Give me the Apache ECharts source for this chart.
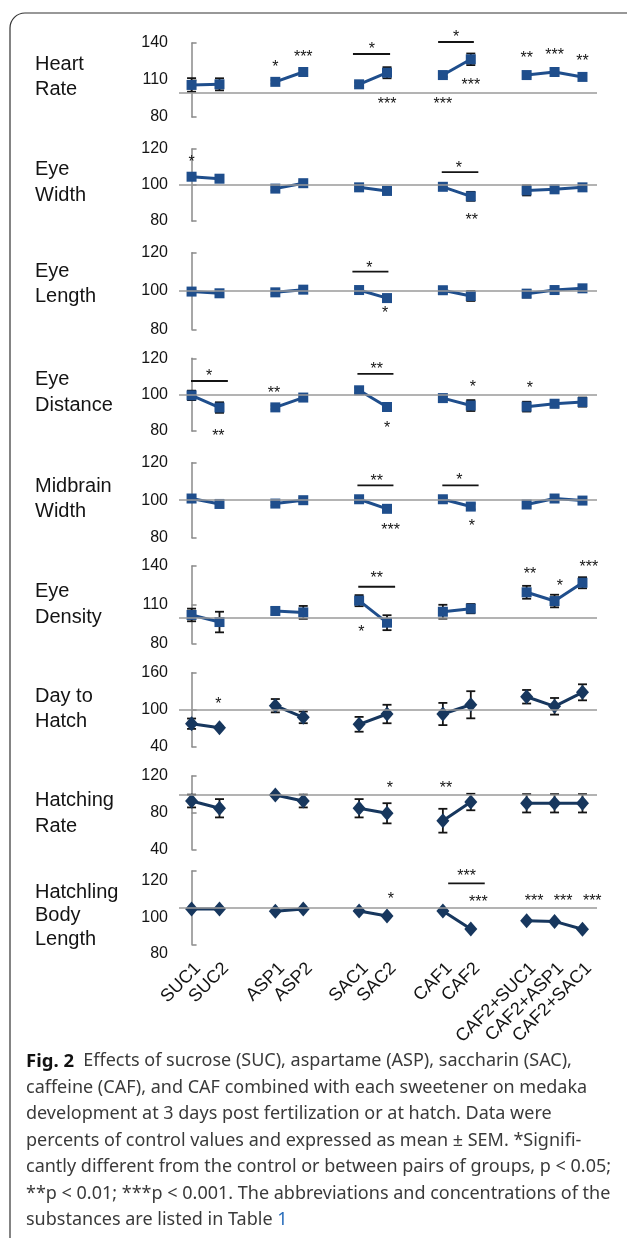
<!DOCTYPE html>
<html>
<head>
<meta charset="utf-8">
<script src="https://cdn.jsdelivr.net/npm/echarts@6/dist/echarts.min.js"></script>
<style>
  html, body { margin: 0; padding: 0; background: #fff; }
  #chart { width: 627px; height: 1238px; }
</style>
</head>
<body>
<div id="chart"></div>
<script>
// groups and where they sit on the x axis (gaps between substances)
const groups = ['SUC1', 'SUC2', 'ASP1', 'ASP2', 'SAC1', 'SAC2', 'CAF1', 'CAF2', 'CAF2+SUC1', 'CAF2+ASP1', 'CAF2+SAC1']
const positions = [0, 1, 3, 4, 6, 7, 9, 10, 12, 13, 14]
const control = 100

// percent of control, mean and SEM
const heartRate = [106, 106.5, 108.5, 116.5, 106.5, 115.9, 114, 126.8, 114, 116.5, 112.5]
const heartRateSem = [5.5, 4.9, 1.5, 2, 1.5, 4.5, 1.5, 4.7, 1.5, 1.5, 1.5]
const eyeWidth = [104.6, 103.5, 98, 101, 98.7, 96.7, 99, 93.7, 97, 97.6, 98.7]
const eyeWidthSem = [1, 1, 1, 1, 1, 1, 1, 2.5, 2.8, 1, 1]
const eyeLength = [99.7, 98.8, 99.3, 100.7, 100.5, 96.3, 100.4, 97.4, 98.6, 100.5, 101.4]
const eyeLengthSem = [1, 1, 1, 1, 1, 1.5, 1.5, 2.6, 2, 1, 1]
const eyeDistance = [99.6, 92.9, 93, 98.4, 102.4, 93.2, 98.1, 94, 93.4, 95, 95.9]
const eyeDistanceSem = [2.6, 2.9, 1, 1.5, 1.5, 1, 1, 3, 2.7, 2, 2.5]
const midbrainWidth = [100.9, 98, 98.2, 100, 100.5, 95.4, 100.5, 96.6, 97.7, 100.9, 99.8]
const midbrainWidthSem = [1, 1, 1, 1, 1, 1, 1, 1.5, 1, 1, 1]
const eyeDensity = [102, 96.5, 105.1, 104, 113.1, 96, 104.5, 106.9, 119.6, 112.8, 127]
const eyeDensitySem = [4.9, 8, 2.8, 5, 4.3, 5.8, 5.4, 3.6, 5, 4.9, 4.3]
const dayToHatch = [77.3, 70.8, 106.5, 87.6, 76.3, 93, 93, 108, 121, 105.5, 128.2]
const dayToHatchSem = [8.4, 2, 10.8, 9.5, 12, 15, 18, 22, 11, 13.5, 13]
const hatchingRate = [92.7, 84.8, 99.3, 92.7, 84.8, 79.3, 71.2, 91.6, 90.2, 90.2, 90.2]
const hatchingRateSem = [7, 10, 0.5, 7, 10, 11, 13, 9, 10, 10, 10]
const bodyLength = [99.3, 99.3, 98, 99.3, 98.2, 95.4, 98.2, 88.3, 92.9, 92.5, 88.2]
const bodyLengthSem = [0, 0, 0, 0, 0, 0, 0, 0, 0, 0, 0]

// y axis tick labels
const heartRateTicks = [80, 110, 140]
const eyeWidthTicks = [80, 100, 120]
const eyeLengthTicks = [80, 100, 120]
const eyeDistanceTicks = [80, 100, 120]
const midbrainWidthTicks = [80, 100, 120]
const eyeDensityTicks = [80, 110, 140]
const dayToHatchTicks = [40, 100, 160]
const hatchingRateTicks = [40, 80, 120]
const bodyLengthTicks = [80, 100, 120]

// significance marks [x, y, text] and pair brackets [x1, x2, y]
const heartRateStars = [[3, 123.8, '*'], [4, 131.9, '***'], [6.46, 138.4, '*'], [7, 93.8, '***'], [9.47, 148.1, '*'], [10, 109.2, '***'], [9, 93.8, '***'], [12, 131.1, '**'], [13, 133.5, '***'], [14, 128.7, '**']]
const heartRateBrackets = [[5.78, 7.11, 131.1], [8.83, 10.11, 140.8]]
const eyeWidthStars = [[0, 115, '*'], [9.57, 112.1, '*'], [10.03, 82.8, '**']]
const eyeWidthBrackets = [[8.96, 10.27, 107.1]]
const eyeLengthStars = [[6.37, 114.5, '*'], [6.93, 90.6, '*']]
const eyeLengthBrackets = [[5.76, 7.05, 110.1]]
const eyeDistanceStars = [[0.63, 112.6, '*'], [0.96, 79.6, '**'], [2.95, 103.5, '**'], [6.63, 116.3, '**'], [7, 84.2, '*'], [10.07, 106.6, '*'], [12.12, 105.9, '*']]
const eyeDistanceBrackets = [[-0.02, 1.3, 107.5], [5.94, 7.23, 111.4]]
const midbrainWidthStars = [[6.63, 112.7, '**'], [7.13, 86.4, '***'], [9.59, 113.1, '*'], [10.04, 88.5, '*']]
const midbrainWidthBrackets = [[5.94, 7.23, 107.9], [8.98, 10.28, 107.9]]
const eyeDensityStars = [[6.63, 133.8, '**'], [6.08, 92.4, '*'], [12.12, 137.5, '**'], [13.19, 127.8, '*'], [14.23, 142.6, '***']]
const eyeDensityBrackets = [[5.97, 7.29, 123.9]]
const dayToHatchStars = [[0.96, 115.7, '*']]
const dayToHatchBrackets = []
const hatchingRateStars = [[7.1, 112, '*'], [9.11, 112, '**']]
const hatchingRateBrackets = []
const bodyLengthStars = [[7.14, 106.9, '*'], [9.85, 119.6, '***'], [10.27, 105.4, '***'], [12.27, 106, '***'], [13.31, 106, '***'], [14.35, 106, '***']]
const bodyLengthBrackets = [[9.19, 10.5, 113.3]]

const panels = [
  { name: 'Heart\nRate', values: heartRate, sem: heartRateSem, ticks: heartRateTicks, stars: heartRateStars, brackets: heartRateBrackets },
  { name: 'Eye\nWidth', values: eyeWidth, sem: eyeWidthSem, ticks: eyeWidthTicks, stars: eyeWidthStars, brackets: eyeWidthBrackets },
  { name: 'Eye\nLength', values: eyeLength, sem: eyeLengthSem, ticks: eyeLengthTicks, stars: eyeLengthStars, brackets: eyeLengthBrackets },
  { name: 'Eye\nDistance', values: eyeDistance, sem: eyeDistanceSem, ticks: eyeDistanceTicks, stars: eyeDistanceStars, brackets: eyeDistanceBrackets },
  { name: 'Midbrain\nWidth', values: midbrainWidth, sem: midbrainWidthSem, ticks: midbrainWidthTicks, stars: midbrainWidthStars, brackets: midbrainWidthBrackets },
  { name: 'Eye\nDensity', values: eyeDensity, sem: eyeDensitySem, ticks: eyeDensityTicks, stars: eyeDensityStars, brackets: eyeDensityBrackets },
  { name: 'Day to\nHatch', values: dayToHatch, sem: dayToHatchSem, ticks: dayToHatchTicks, stars: dayToHatchStars, brackets: dayToHatchBrackets },
  { name: 'Hatching\nRate', values: hatchingRate, sem: hatchingRateSem, ticks: hatchingRateTicks, stars: hatchingRateStars, brackets: hatchingRateBrackets },
  { name: 'Hatchling\nBody\nLength', values: bodyLength, sem: bodyLengthSem, ticks: bodyLengthTicks, stars: bodyLengthStars, brackets: bodyLengthBrackets }
]

// pixel layout of each panel (plot top / bottom, label centre)
const layout = [
  { top: 43, bottom: 117, labelY: 78, lh: 25.5 },
  { top: 149, bottom: 221, labelY: 183.5, lh: 25.5 },
  { top: 252.7, bottom: 329.3, labelY: 285, lh: 25.5 },
  { top: 358.3, bottom: 431, labelY: 393.5, lh: 25.5 },
  { top: 462.7, bottom: 537.7, labelY: 500, lh: 25.5 },
  { top: 566, bottom: 643.3, labelY: 605.5, lh: 25.5 },
  { top: 672.7, bottom: 746.7, labelY: 710, lh: 25.5 },
  { top: 776, bottom: 849.3, labelY: 814.5, lh: 25.5 },
  { top: 871, bottom: 944.3, labelY: 916.5, lh: 23.5 }
]

const font = "'Liberation Sans', Arial, sans-serif"
const ink = '#141414'

var myChart = echarts.init(document.getElementById('chart'))

const grid = []
const xAxis = []
const yAxis = []
const series = []
const graphic = []

panels.forEach((p, k) => {
  const L = layout[k]
  const last = k === panels.length - 1
  const blue = k < 6 ? '#1f4e8c' : '#17375e'
  grid.push({ left: 179, right: 30, top: L.top, height: L.bottom - L.top })
  xAxis.push({
    gridIndex: k,
    type: 'value',
    min: -0.45,
    max: 14.52,
    axisLine: { show: false },
    axisTick: { show: false },
    splitLine: { show: false },
    axisLabel: last ? {
      show: true,
      customValues: positions,
      formatter: v => groups[positions.indexOf(v)],
      rotate: 45,
      margin: 15,
      verticalAlign: 'top',
      lineHeight: 18,
      fontSize: 18,
      fontFamily: font,
      color: ink
    } : { show: false }
  })
  yAxis.push({
    gridIndex: k,
    type: 'value',
    min: p.ticks[0],
    max: p.ticks[p.ticks.length - 1],
    axisLine: { show: true, lineStyle: { color: '#8a8a8a', width: 1.5 } },
    axisTick: { show: true, inside: true, length: 5, customValues: p.ticks, lineStyle: { color: '#8a8a8a', width: 1.5 } },
    axisLabel: {
      customValues: p.ticks,
      fontSize: 16,
      fontFamily: font,
      color: ink,
      margin: 11,
      verticalAlign: last ? 'top' : 'middle',
      lineHeight: last ? 19 : 16
    },
    splitLine: { show: false }
  })

  // error bars + control line
  series.push({
    type: 'custom',
    xAxisIndex: k,
    yAxisIndex: k,
    z: 1,
    silent: true,
    data: positions.map((x, i) => [x, p.values[i] - p.sem[i], p.values[i] + p.sem[i]]).filter((d, i) => p.sem[i] > 0),
    encode: { x: 0, y: [1, 2] },
    renderItem: function (params, api) {
      const lo = api.coord([api.value(0), api.value(1)])
      const hi = api.coord([api.value(0), api.value(2)])
      const w = 4.5
      const style = { stroke: ink, lineWidth: 1.8 }
      return {
        type: 'group',
        children: [
          { type: 'line', shape: { x1: lo[0], y1: lo[1], x2: hi[0], y2: hi[1] }, style },
          { type: 'line', shape: { x1: lo[0] - w, y1: lo[1], x2: lo[0] + w, y2: lo[1] }, style },
          { type: 'line', shape: { x1: hi[0] - w, y1: hi[1], x2: hi[0] + w, y2: hi[1] }, style }
        ]
      }
    },
    markLine: {
      silent: true,
      symbol: 'none',
      label: { show: false },
      lineStyle: { color: '#9a9a9a', width: 1.5, type: 'solid' },
      data: [{ yAxis: control }]
    }
  })

  // means, broken between substances
  const lineData = []
  positions.forEach((x, i) => {
    if (i > 0 && x - positions[i - 1] > 1) lineData.push([x - 1, '-'])
    lineData.push([x, p.values[i]])
  })
  series.push({
    type: 'line',
    xAxisIndex: k,
    yAxisIndex: k,
    z: 3,
    silent: true,
    connectNulls: false,
    data: lineData,
    symbol: k < 6 ? 'rect' : 'diamond',
    symbolSize: k < 6 ? 10 : [13, 15],
    itemStyle: { color: blue },
    lineStyle: { color: blue, width: 3 }
  })

  // significance stars and brackets
  series.push({
    type: 'custom',
    xAxisIndex: k,
    yAxisIndex: k,
    z: 4,
    silent: true,
    data: p.stars.map(s => [s[0], s[1]]),
    renderItem: function (params, api) {
      const pt = api.coord([api.value(0), api.value(1)])
      return {
        type: 'text',
        x: pt[0],
        y: pt[1] + 5,
        style: {
          text: p.stars[params.dataIndex][2],
          fill: ink,
          font: '16px ' + font,
          align: 'center',
          verticalAlign: 'middle'
        }
      }
    }
  })
  series.push({
    type: 'custom',
    xAxisIndex: k,
    yAxisIndex: k,
    z: 4,
    silent: true,
    data: p.brackets,
    renderItem: function (params, api) {
      const a = api.coord([api.value(0), api.value(2)])
      const b = api.coord([api.value(1), api.value(2)])
      return {
        type: 'line',
        shape: { x1: a[0], y1: a[1], x2: b[0], y2: b[1] },
        style: { stroke: ink, lineWidth: 1.8 }
      }
    }
  })

  const nLines = p.name.split('\n').length
  graphic.push({
    type: 'text',
    left: 35,
    top: L.labelY - nLines * L.lh / 2 - 1,
    style: {
      text: p.name,
      font: '20px ' + font,
      lineHeight: L.lh,
      fill: ink
    }
  })
})

// frame
graphic.push({
  type: 'rect',
  shape: { x: 10, y: 13, width: 700, height: 1300, r: [15, 0, 0, 0] },
  style: { fill: 'none', stroke: '#333', lineWidth: 1.2 },
  silent: true
})

// caption
graphic.push({
  type: 'text',
  left: 26,
  top: 1048,
  style: {
    text: [
      '{b|Fig. 2}  Effects of sucrose (SUC), aspartame (ASP), saccharin (SAC),',
      'caffeine (CAF), and CAF combined with each sweetener on medaka',
      'development at 3 days post fertilization or at hatch. Data were',
      'percents of control values and expressed as mean \u00b1 SEM. *Signifi-',
      'cantly different from the control or between pairs of groups, p < 0.05;',
      '**p < 0.01; ***p < 0.001. The abbreviations and concentrations of the',
      'substances are listed in Table {l|1}'
    ].join('\n'),
    font: "18px 'Noto Sans', sans-serif",
    fill: '#3a3a3a',
    lineHeight: 26.5,
    rich: {
      b: { fontWeight: 'bold', fontSize: 18.5, fontFamily: 'Noto Sans', fill: '#111', lineHeight: 26.5 },
      l: { fontSize: 18, fontFamily: 'Noto Sans', fill: '#2a6ebb', lineHeight: 26.5 }
    }
  }
})

const option = {
  animation: false,
  grid,
  xAxis,
  yAxis,
  series,
  graphic
}

myChart.setOption(option)
window.addEventListener('resize', function () {
  myChart.resize()
})
</script>
</body>
</html>
